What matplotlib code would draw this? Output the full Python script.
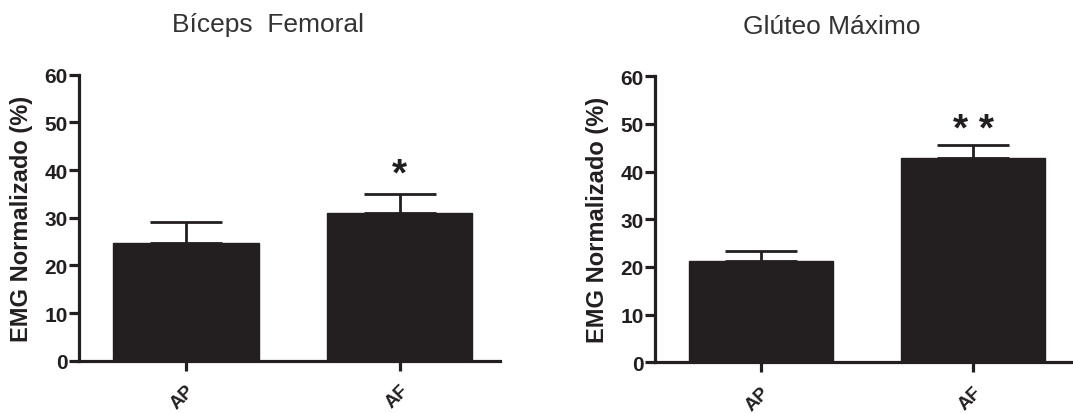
import numpy as np
import matplotlib
matplotlib.use('Agg')
import matplotlib.pyplot as plt

groups = ['AP', 'AF']
titles = ['Bíceps  Femoral', 'Glúteo Máximo']
biceps_mean = [24.8, 31.0]
biceps_err = [4.3, 3.9]
gluteo_mean = [21.2, 42.8]
gluteo_err = [2.1, 2.8]
stars = [['', '*'], ['', '* *']]
yticks = [0, 10, 20, 30, 40, 50, 60]

plt.rcParams['font.family'] = ['Liberation Sans', 'DejaVu Sans']
bar_color = '#231f20'

fig = plt.figure(figsize=(10.73, 4.14), dpi=100)
ax1 = fig.add_axes([0.0736, 0.1263, 0.3924, 0.6907])
ax2 = fig.add_axes([0.6104, 0.1225, 0.3896, 0.6907])
title_pos = [(0.2498, 0.94), (0.775, 0.935)]
star_gap = [0.45, -0.65]

data = [(biceps_mean, biceps_err), (gluteo_mean, gluteo_err)]
for i, (ax, (m, e)) in enumerate(zip([ax1, ax2], data)):
    x = np.arange(len(groups))
    ax.bar(x, m, width=0.68, color=bar_color, edgecolor=bar_color, zorder=2)
    ax.errorbar(x, m, yerr=[np.zeros(len(e)), e], fmt='none', ecolor=bar_color,
                elinewidth=2, capsize=26, capthick=2, zorder=1)
    for xi, mi, ei, s in zip(x, m, e, stars[i]):
        if s:
            ax.text(xi, mi + ei + star_gap[i], s, ha='center', va='bottom',
                    fontsize=28, fontweight='bold', color=bar_color)
    ax.set_xlim(-0.5, 1.47)
    ax.set_ylim(0, 60)
    ax.set_yticks(yticks)
    ax.set_xticks(x)
    ax.set_xticklabels(groups, rotation=45, ha='right', va='top',
                       rotation_mode='anchor', fontsize=13.5, fontweight='bold')
    for lab in ax.get_yticklabels():
        lab.set_fontweight('bold')
        lab.set_fontsize(15)
    ax.spines['top'].set_visible(False)
    ax.spines['right'].set_visible(False)
    ax.spines['left'].set_linewidth(2.3)
    ax.spines['bottom'].set_linewidth(2.3)
    ax.spines['left'].set_color(bar_color)
    ax.spines['bottom'].set_color(bar_color)
    ax.spines['bottom'].set_zorder(3)
    ax.tick_params(axis='both', direction='out', length=7, width=2.3,
                   color=bar_color, labelcolor=bar_color, pad=1)
    ax.tick_params(axis='x', pad=8)
    ax.set_ylabel('EMG Normalizado (%)', fontsize=17, fontweight='bold',
                  color=bar_color)
    ax.yaxis.set_label_coords(-0.109, 0.5)
    fig.text(title_pos[i][0], title_pos[i][1], titles[i], ha='center', va='center',
             fontsize=19, color='#333333')

fig.savefig('out.png', dpi=100, facecolor='white')
